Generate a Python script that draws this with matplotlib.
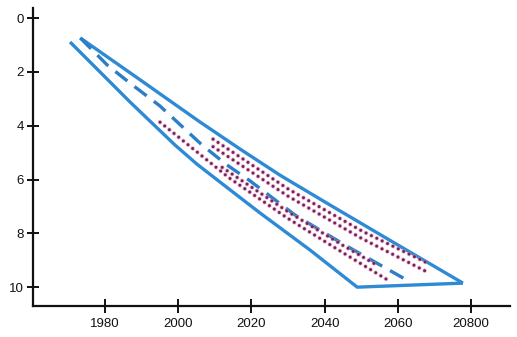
import matplotlib
matplotlib.use("Agg")
import matplotlib.pyplot as plt

plt.rcParams["font.family"] = ["Liberation Sans", "DejaVu Sans"]
plt.rcParams["lines.scale_dashes"] = False

# Tick positions and labels
x_ticks = [1980, 2000, 2020, 2040, 2060, 2080]
x_labels = ["1980", "2000", "2020", "2040", "2060", "20800"]
y_ticks = [0, 2, 4, 6, 8, 10]

# Outer envelope: upper edge, lower edge (ending in the tip)
upper_x = [1973.2, 1989.6, 2006.0, 2016.9, 2027.8, 2041.5, 2060.6, 2077.8]
upper_y = [0.74, 2.30, 3.87, 4.87, 5.84, 6.95, 8.48, 9.85]
lower_x = [1970.4, 1986.8, 1999.1, 2005.1, 2014.2, 2022.4, 2036.0, 2048.9, 2077.8]
lower_y = [0.89, 3.12, 4.72, 5.43, 6.39, 7.25, 8.62, 10.00, 9.85]

# Central estimate (dashed)
mid_x = [1973.2, 1980.6, 1987.1, 1995.0, 2006.5, 2013.3, 2019.3, 2031.9, 2045.6, 2062.5]
mid_y = [0.74, 1.75, 2.45, 3.27, 4.72, 5.46, 6.02, 7.32, 8.44, 9.74]

# Inner range (dotted): two upper rows, two lower rows
inner_a1_x = [2009.5, 2030.0, 2050.0, 2068.3]
inner_a1_y = [4.50, 6.35, 7.90, 9.12]
inner_a2_x = [2009.5, 2030.0, 2050.0, 2067.5]
inner_a2_y = [4.78, 6.62, 8.18, 9.40]
inner_b1_x = [1995.0, 2014.0, 2030.0, 2045.0, 2057.3]
inner_b1_y = [3.87, 5.95, 7.45, 8.72, 9.74]
inner_b2_x = [2012.0, 2030.0, 2045.0, 2054.5]
inner_b2_y = [5.55, 7.20, 8.45, 9.20]

blue = "#2f8ad6"
dash_blue = "#2b7fc6"
dot_dark = "#722458"
dot_halo = "#e58ab5"

fig = plt.figure(figsize=(5.17, 3.37), dpi=100)
ax = fig.add_axes([0.064, 0.092, 0.922, 0.884])

ax.plot(upper_x, upper_y, color=blue, lw=2.4, solid_capstyle="butt", solid_joinstyle="round")
ax.plot(lower_x, lower_y, color=blue, lw=2.4, solid_capstyle="butt", solid_joinstyle="round")

ax.plot(mid_x, mid_y, color=dash_blue, lw=2.4, dashes=(11, 6.5), dash_capstyle="butt")

for xs, ys in [(inner_a1_x, inner_a1_y), (inner_a2_x, inner_a2_y),
               (inner_b1_x, inner_b1_y), (inner_b2_x, inner_b2_y)]:
    ax.plot(xs, ys, color=dot_halo, lw=3.4, alpha=0.55, dashes=(0.01, 4.3),
            dash_capstyle="round")
    ax.plot(xs, ys, color=dot_dark, lw=2.2, dashes=(0.01, 4.3),
            dash_capstyle="round")

ax.set_xlim(1960.3, 2090.6)
ax.set_ylim(10.7, -0.37)

for side in ["top", "right"]:
    ax.spines[side].set_visible(False)
for side in ["left", "bottom"]:
    ax.spines[side].set_linewidth(1.6)
    ax.spines[side].set_color("#111111")

ax.set_xticks(x_ticks)
ax.set_xticklabels(x_labels)
ax.set_yticks(y_ticks)
ax.tick_params(axis="x", direction="inout", length=9.5, width=1.4, pad=4,
               labelsize=9.5, colors="#111111")
ax.tick_params(axis="y", direction="inout", length=8, width=1.4, pad=2.5,
               labelsize=9.5, colors="#111111")

fig.savefig("out.png", dpi=100)
